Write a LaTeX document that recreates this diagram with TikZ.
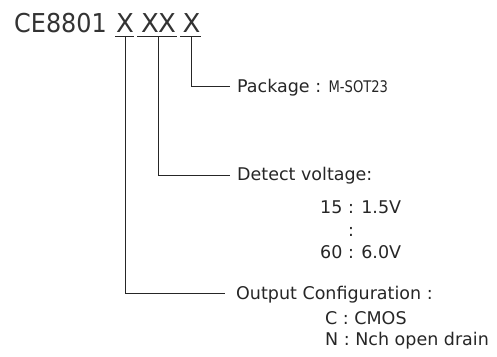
\documentclass[tikz,border=0pt]{standalone}
\usepackage{fontspec}
\setmainfont{DejaVu Sans}
\begin{document}
\begin{tikzpicture}[x=1pt,y=-1pt,
  lbl/.style={anchor=base west,inner sep=0pt,font=\fontsize{17.5}{19}\selectfont,text=black!85},
  big/.style={anchor=base west,inner sep=0pt,font=\fontsize{26}{28}\selectfont,text=black!80},
  conn/.style={line width=1pt,draw=black!85}]
\useasboundingbox (0,0) rectangle (497,356);
% title and code letters
\node[big] (title) at (14,32) {\scalebox{0.92}[1]{CE8801}};
\node[big,anchor=base] (x1) at (125,32) {X};
\node[big,anchor=base] (x2a) at (150,32) {X};
\node[big,anchor=base] (x2b) at (167,32) {X};
\node[big,anchor=base] (x3) at (191.5,32) {X};
% underlines
\coordinate (u1a) at (115,36); \coordinate (u1b) at (134,36);
\coordinate (u2a) at (137,36); \coordinate (u2b) at (177,36);
\coordinate (u3a) at (180,36); \coordinate (u3b) at (201,36);
\draw[conn] (u1a) -- (u1b);
\draw[conn] (u2a) -- (u2b);
\draw[conn] (u3a) -- (u3b);
\coordinate (t1) at (125,36);
\coordinate (t2) at (158,36);
\coordinate (t3) at (191,36);
% elbow ends
\coordinate (e3) at (230,86);
\coordinate (e2) at (230,175);
\coordinate (e1) at (225,293);
\draw[conn] (t3) |- (e3);
\draw[conn] (t2) |- (e2);
\draw[conn] (t1) |- (e1);
% labels
\node[lbl] (pkg) at (237,92) {Package : {\fontsize{16}{18}\selectfont\scalebox{0.82}[1]{M-SOT23}}};
\node[lbl] (det) at (237,180) {Detect voltage:};
\node[lbl] (v15) at (320,213) {15 : 1.5V};
\node[lbl,anchor=base] (vdots) at (351,236) {:};
\node[lbl] (v60) at (320,258) {60 : 6.0V};
\node[lbl] (out) at (236,299) {Output Configuration :};
\node[lbl] (cmos) at (325,324) {C : CMOS};
\node[lbl] (nch) at (325,345) {N : Nch open drain};
\end{tikzpicture}
\end{document}
